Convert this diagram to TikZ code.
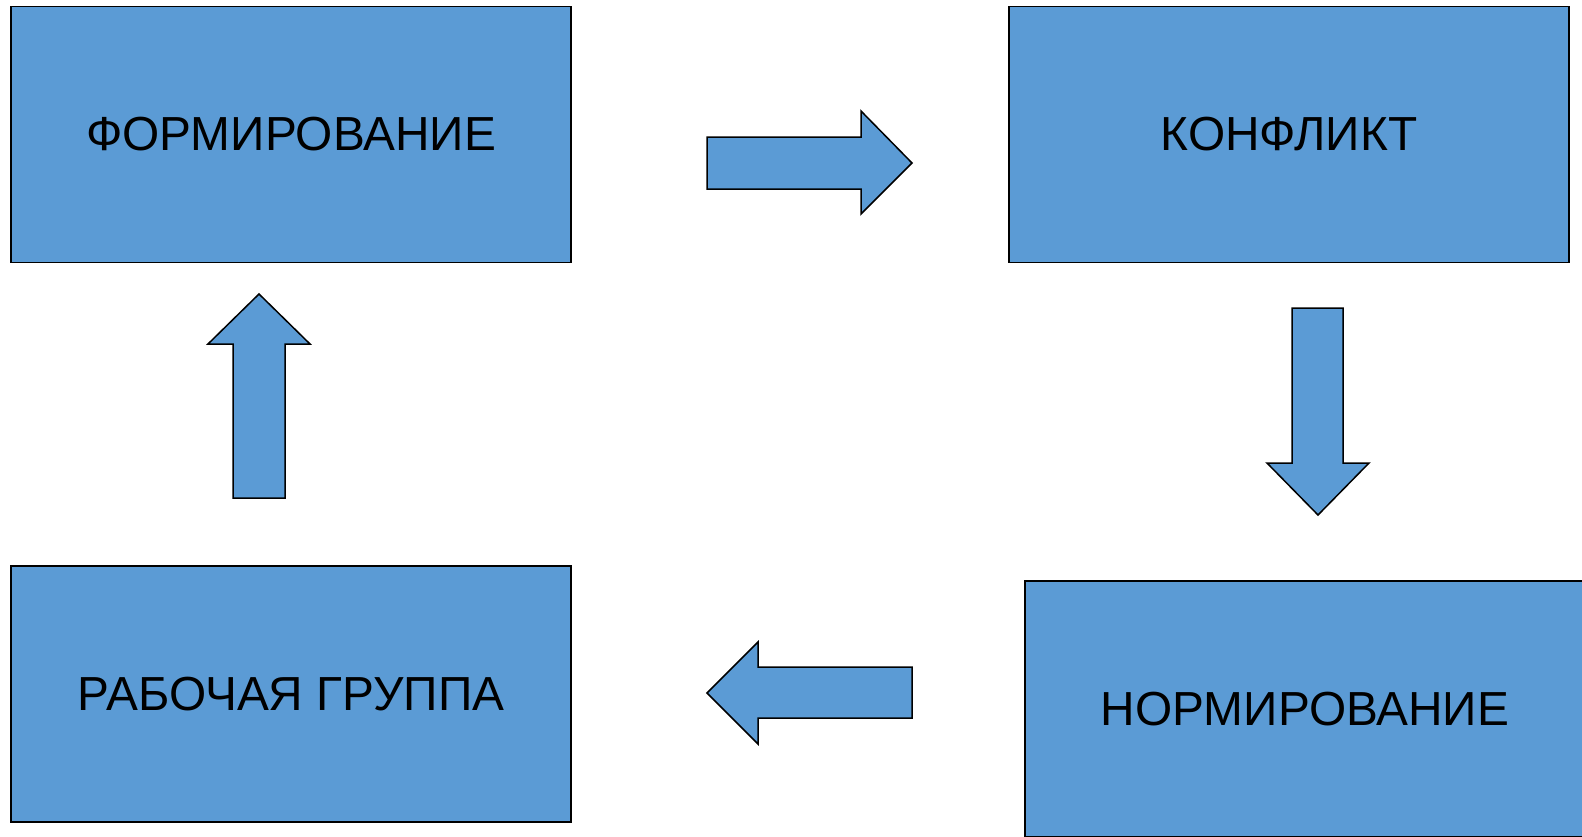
\documentclass[tikz,border=0pt]{standalone}
\usepackage{fontspec}
\setmainfont{Liberation Sans}
\definecolor{boxblue}{HTML}{5B9BD5}
\newcommand{\lowtext}[1]{\raisebox{-2.5pt}{#1}}
\tikzset{
  stagebox/.style={draw=black, line width=1.5pt, fill=boxblue, minimum width=560pt, minimum height=256pt, inner sep=0pt, font=\fontsize{47.8}{57}\selectfont, text=black},
  blockarrow/.style={draw=black, line width=1.5pt, fill=boxblue, line join=miter}
}
\begin{document}
\begin{tikzpicture}[x=1pt,y=-1pt]
\useasboundingbox (0,0) rectangle (1582,836);
\clip (0,0) rectangle (1582,836);
\node[stagebox] (form) at (291,134.5) {\lowtext{ФОРМИРОВАНИЕ}};
\node[stagebox] (konf) at (1289,134.5) {\lowtext{КОНФЛИКТ}};
\node[stagebox] (rab) at (291,694) {\lowtext{РАБОЧАЯ ГРУППА}};
\node[stagebox] (norm) at (1305,709) {\lowtext{НОРМИРОВАНИЕ}};
% right arrow
\draw[blockarrow] (707,137) -- (861,137) -- (861,111) -- (912,163) -- (861,214) -- (861,189) -- (707,189) -- cycle;
% down arrow
\draw[blockarrow] (1292,308) -- (1343,308) -- (1343,463) -- (1369,463) -- (1318,515) -- (1267,463) -- (1292,463) -- cycle;
% left arrow
\draw[blockarrow] (912,667) -- (758,667) -- (758,642) -- (707,693) -- (758,744) -- (758,718) -- (912,718) -- cycle;
% up arrow
\draw[blockarrow] (233,498) -- (233,344) -- (208,344) -- (259,294) -- (310,344) -- (285,344) -- (285,498) -- cycle;
\end{tikzpicture}
\end{document}
